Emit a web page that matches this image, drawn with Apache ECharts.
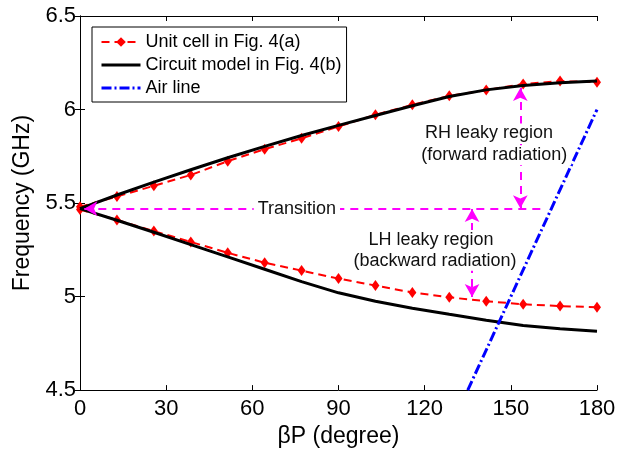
<!DOCTYPE html>
<html>
<head>
<meta charset="utf-8">
<script src="https://cdn.jsdelivr.net/npm/echarts@6/dist/echarts.min.js"></script>
<style>
  html, body { margin: 0; padding: 0; background: #fff; }
  #chart { width: 629px; height: 453px; }
</style>
</head>
<body>
<div id="chart"></div>
<script>
// Phase per unit cell (degree)
const betaP = [0, 12.86, 25.71, 38.57, 51.43, 64.29, 77.14, 90, 102.86, 115.71, 128.57, 141.43, 154.29, 167.14, 180];

// Full-wave unit cell dispersion (GHz)
const cellUpper = [5.48, 5.535, 5.592, 5.65, 5.724, 5.788, 5.846, 5.909, 5.972, 6.025, 6.073, 6.104, 6.136, 6.152, 6.146];
const cellLower = [5.465, 5.41, 5.35, 5.292, 5.234, 5.181, 5.139, 5.096, 5.059, 5.022, 4.996, 4.975, 4.959, 4.949, 4.943];

// Equivalent circuit model dispersion (GHz)
const circuitUpper = [5.47, 5.543, 5.612, 5.678, 5.742, 5.803, 5.861, 5.915, 5.968, 6.02, 6.07, 6.105, 6.128, 6.143, 6.152];
const circuitLower = [5.47, 5.408, 5.344, 5.278, 5.212, 5.146, 5.08, 5.02, 4.975, 4.938, 4.905, 4.873, 4.845, 4.828, 4.815];

// Light line
const airBetaP = [135, 180];
const airFreq = [4.5, 6.0];

// Axis ticks
const xTicks = [0, 30, 60, 90, 120, 150, 180];
const yTicks = [4.5, 5, 5.5, 6, 6.5];

// Region annotations: arrows [x1, y1, x2, y2, arrowAtStart, arrowAtEnd]
const arrows = [
  [1.5, 5.47, 161, 5.47, true, false],
  [153.3, 6.115, 153.3, 5.472, true, true],
  [136.5, 5.468, 136.5, 4.998, true, true]
];
// Annotation texts [x, y, text]
const notes = [
  [75.5, 5.47, 'Transition'],
  [142.4, 5.872, 'RH leaky region'],
  [144.2, 5.756, '(forward radiation)'],
  [122.2, 5.302, 'LH leaky region'],
  [123.6, 5.191, '(backward radiation)']
];

const FONT = '"Liberation Sans", Arial, Helvetica, sans-serif';
const pair = (xs, ys) => xs.map((x, i) => [x, ys[i]]);

const chart = echarts.init(document.getElementById('chart'), null, { renderer: 'canvas' });

const cellStyle = {
  type: 'line',
  name: 'Unit cell in Fig. 4(a)',
  symbol: 'diamond',
  symbolSize: [8, 11],
  itemStyle: { color: '#ff0000' },
  lineStyle: { color: '#ff0000', width: 2, type: [8, 5] },
  z: 2
};
const circuitStyle = {
  type: 'line',
  name: 'Circuit model in Fig. 4(b)',
  showSymbol: false,
  symbol: 'none',
  itemStyle: { color: '#000' },
  lineStyle: { color: '#000', width: 3 },
  z: 3
};

const axisCommon = {
  axisLine: { show: true, lineStyle: { color: '#000', width: 1 } },
  axisTick: { show: true, inside: true, length: 5, lineStyle: { color: '#000' } },
  splitLine: { show: false }
};

chart.setOption({
  animation: false,
  backgroundColor: '#fff',
  textStyle: { fontFamily: FONT },
  grid: { left: 80, right: 32, top: 16, bottom: 58, containLabel: false },
  legend: {
    left: 92, top: 27,
    orient: 'vertical',
    itemWidth: 39, itemHeight: 12, itemGap: 5,
    padding: [6, 5, 5, 8],
    borderColor: '#000', borderWidth: 1, borderRadius: 0,
    backgroundColor: '#fff',
    textStyle: { fontSize: 18, color: '#000', fontFamily: FONT },
    data: [
      { name: 'Unit cell in Fig. 4(a)' },
      { name: 'Circuit model in Fig. 4(b)', itemStyle: { opacity: 0 }, lineStyle: { width: 3 } },
      { name: 'Air line', itemStyle: { opacity: 0 }, lineStyle: { width: 3 } }
    ]
  },
  xAxis: [
    Object.assign({
      type: 'value', position: 'bottom',
      min: xTicks[0], max: xTicks[xTicks.length - 1], interval: 30,
      name: 'βP (degree)', nameLocation: 'middle', nameGap: 30,
      nameTextStyle: { fontSize: 23, color: '#000', fontFamily: FONT },
      axisLabel: { fontSize: 22, color: '#000', margin: 8, fontFamily: FONT }
    }, axisCommon),
    Object.assign({
      type: 'value', position: 'top',
      min: xTicks[0], max: xTicks[xTicks.length - 1], interval: 30,
      axisLabel: { show: false }
    }, axisCommon)
  ],
  yAxis: [
    Object.assign({
      type: 'value', position: 'left',
      min: yTicks[0], max: yTicks[yTicks.length - 1], interval: 0.5,
      name: 'Frequency (GHz)', nameLocation: 'middle', nameGap: 40,
      nameTextStyle: { fontSize: 23, color: '#000', fontFamily: FONT },
      axisLabel: { fontSize: 22, color: '#000', margin: 4, fontFamily: FONT }
    }, axisCommon),
    Object.assign({
      type: 'value', position: 'right',
      min: yTicks[0], max: yTicks[yTicks.length - 1], interval: 0.5,
      axisLabel: { show: false }
    }, axisCommon)
  ],
  series: [
    Object.assign({ data: pair(betaP, cellLower) }, cellStyle),
    Object.assign({ data: pair(betaP, cellUpper) }, cellStyle),
    Object.assign({ data: pair(betaP, circuitLower) }, circuitStyle),
    Object.assign({ data: pair(betaP, circuitUpper) }, circuitStyle),
    {
      type: 'line',
      name: 'Air line',
      data: pair(airBetaP, airFreq),
      showSymbol: false,
      symbol: 'none',
      itemStyle: { color: '#0000ff' },
      lineStyle: { color: '#0000ff', width: 3, type: [10, 3, 2, 3] },
      z: 4
    },
    {
      type: 'line',
      name: 'regions',
      data: [],
      z: 5,
      markLine: {
        silent: true,
        symbolSize: [11, 13],
        lineStyle: { color: '#ff00ff', width: 2, type: [8, 6] },
        label: { show: false },
        emphasis: { disabled: true },
        data: arrows.map(a => [
          { coord: [a[0], a[1]], symbol: a[4] ? 'arrow' : 'none' },
          { coord: [a[2], a[3]], symbol: a[5] ? 'arrow' : 'none' }
        ])
      }
    },
    {
      type: 'scatter',
      name: 'notes',
      data: notes,
      symbolSize: 0,
      silent: true,
      z: 10,
      itemStyle: { opacity: 1 },
      label: {
        show: true,
        position: 'inside',
        formatter: p => p.data[2],
        fontSize: 18,
        color: '#111',
        fontFamily: FONT,
        backgroundColor: '#fff',
        padding: [1, 4]
      }
    }
  ]
});
</script>
</body>
</html>
